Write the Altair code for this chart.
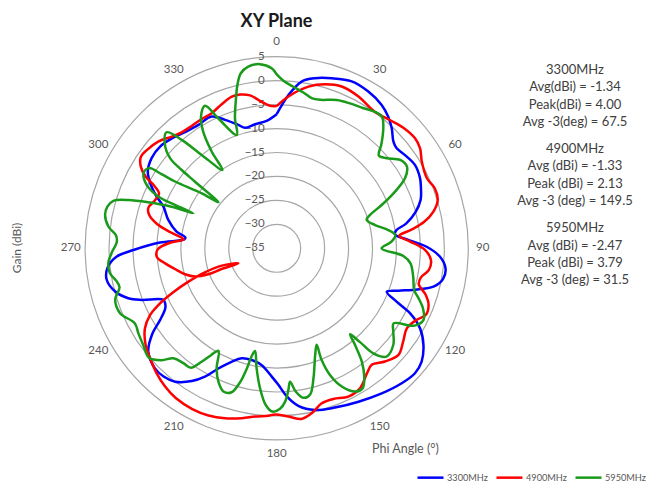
import altair as alt
import pandas as pd

# ---------------- data ----------------
series_names = ["3300MHz", "4900MHz", "5950MHz"]
series_colors = ["#0000ff", "#ff0000", "#1a9a1a"]

blue_phi = [0, 4.4, 8.5, 12.7, 17.9, 24.2, 30.3, 36.2, 40.3, 43.8, 47.6, 50.2, 54.0, 58.9, 64.0, 67.5,
            71.4, 75.5, 79.2, 81.5, 83.4, 86.2, 89.4, 92.9, 96.8, 100.5, 103.6, 106.3, 109.2, 111.5,
            114.0, 116.0, 119.2, 123.4, 128.0, 132.1, 137.2, 144.1, 151.9, 159.9, 166.7, 172.2, 176.1,
            179.3, 182.2, 187.3, 192.6, 197.7, 201.7, 205.9, 209.2, 212.6, 217.3, 221.4, 225.4, 231.2,
            235.5, 238.4, 241.5, 243.5, 245.6, 249.1, 251.4, 255.0, 259.6, 263.6, 267.0, 269.3, 272.8,
            275.5, 276.8, 279.5, 284.7, 290.2, 293.3, 296.7, 300.7, 305.8, 311.1, 316.3, 321.7, 327.6,
            333.7, 338.1, 342.7, 345.3, 350.1, 355.5]
blue_gain = [-7.0, -2.9, 0.2, 1.4, 2.3, 3.2, 2.9, 2.1, 1.0, -0.3, -2.0, -2.4, -1.9, -1.3, -1.7, -2.4,
             -3.3, -5.1, -7.5, -9.8, -10.1, -7.6, -3.7, -0.9, 0.5, 0.3, -1.2, -4.4, -8.1, -10.3,
             -7.6, -4.0, -0.7, 1.7, 3.4, 3.9, 3.4, 2.4, 1.3, 0.4, -0.3, -1.8, -4.0,
             -6.5, -8.2, -10.4, -11.1, -10.9, -9.5, -7.1, -4.3, -2.1, 0.0, 0.7, 0.7, -0.6,
             -3.5, -6.4, -8.5, -9.0, -9.0, -4.8, -2.3, -0.1, 1.1, 0.5, -1.5, -5.1, -10.6,
             -15.6, -15.8, -13.8, -11.6, -9.8, -7.7, -5.6, -3.7, -2.8, -2.7, -3.3, -4.1, -4.5,
             -4.3, -6.1, -8.0, -9.0, -8.7, -8.3]

red_phi = [0, 4.4, 11.1, 16.4, 21.9, 28.3, 35.7, 41.4, 46.4, 51.5, 55.1, 59.1, 65.0, 69.2, 73.3, 76.8,
           79.8, 82.2, 84.2, 87.1, 90.7, 94.4, 98.1, 101.5, 104.2, 107.2, 110.3, 114.0, 117.1, 121.6,
           126.4, 131.2, 136.3, 140.8, 144.2, 149.2, 154.2, 159.4, 163.8, 168.0, 171.7, 176.0, 180.6,
           182.9, 187.3, 191.6, 196.9, 202.2, 207.7, 214.0, 218.9, 223.8, 229.0, 233.6, 238.7, 242.2,
           244.4, 246.8, 249.3, 251.5, 252.5, 248.6, 249.4, 249.2, 250.9, 254.2, 258.5, 262.3, 266.0,
           269.6, 273.3, 275.5, 278.5, 281.5, 284.6, 287.5, 291.7, 295.0, 297.2, 298.7, 301.0, 304.0,
           307.1, 312.0, 316.8, 320.7, 325.2, 329.9, 334.3, 339.1, 343.5, 346.6, 350.1, 353.5, 357.3]
red_gain = [-5.3, -3.2, -0.6, 0.7, 1.4, 1.0, 0.1, 0.7, 1.5, 1.9, 1.5, 0.3, -0.4, 0.3, 0.1, -1.4,
            -3.7, -6.7, -9.3, -7.1, -4.0, -2.7, -2.9, -4.3, -4.4, -2.5, -1.2, -0.9, -2.2, -3.1,
            -2.2, -1.2, -2.3, -3.6, -2.8, -1.0, -0.6, -1.4, -1.3, 0.2, 1.0, 0.2, -0.3,
            0.0, 0.4, 1.2, 2.1, 2.7, 2.9, 2.7, 2.1, 1.2, 0.0, -1.0, -2.8, -5.1,
            -7.6, -11.2, -15.3, -19.2, -23.0, -26.4, -22.7, -19.7, -17.0, -15.1, -13.3, -11.5, -9.9,
            -10.2, -13.0, -15.5, -12.7, -9.5, -7.5, -6.9, -7.7, -7.9, -6.1, -3.8, -1.9, -0.8,
            -1.0, -1.7, -3.0, -3.7, -3.9, -3.8, -3.7, -2.8, -2.0, -2.0, -2.6, -4.0, -5.2]

green_phi = [0, 2.3, 5.9, 9.7, 13.1, 16.3, 22.0, 26.8, 31.8, 35.7, 38.6, 41.2, 43.5, 45.3, 47.8, 50.7,
             54.4, 57.9, 61.4, 64.4, 67.6, 70.3, 72.5, 76.7, 80.7, 83.6, 86.7, 90.0, 93.5, 96.4,
             101.7, 106.9, 109.4, 112.3, 116.0, 119.3, 122.7, 125.5, 129.6, 134.6, 137.4, 138.4,
             139.5, 141.0, 143.1, 146.0, 148.5, 151.3, 154.8, 157.2, 158.1, 157.5, 160.2, 164.2,
             167.1, 169.9, 172.4, 174.3, 175.3, 176.9, 178.8, 181.5, 184.0, 186.8, 189.5, 191.9,
             192.9, 194.0, 195.3, 197.4, 200.4, 203.6, 206.6, 209.6, 211.6, 213.5, 215.7, 219.1,
             223.2, 225.8, 229.4, 234.1, 238.4, 242.1, 247.5, 252.3, 256.1, 258.6, 261.5, 264.9,
             268.3, 272.4, 274.7, 277.3, 281.0, 283.8, 286.2, 288.0, 289.7, 291.6, 292.8, 293.1,
             293.6, 296.0, 299.4, 302.1, 302.8, 303.3, 306.3, 308.3, 309.2, 309.5, 310.2, 312.8,
             316.5, 318.8, 321.2, 325.3, 326.1, 327.8, 330.1, 333.3, 335.8, 340.6, 342.2, 344.4,
             346.5, 348.4, 351.1, 354.8, 358.4]
green_gain = [1.3, 0.0, -1.1, -2.0, -2.8, -2.7, -1.6, -1.1, -0.6, 0.1, 0.2, -1.2, -2.9, -4.3, -6.2, -5.3,
              -3.3, -2.9, -4.5, -7.6, -11.3, -14.3, -15.3, -13.9, -11.4, -10.1, -11.0, -13.1, -8.5, -6.9,
              -5.9, -5.0, -3.6, -2.0, -0.9, -2.0, -6.0, -5.1, -3.4, -2.8, -5.2, -8.8,
              -11.4, -9.0, -5.4, -2.3, -0.7, -0.9, -3.1, -6.3, -9.9, -13.2, -11.3, -6.8,
              -3.7, -3.3, -4.8, -7.0, -5.3, -2.9, -1.5, -0.9, -2.2, -5.6, -9.6, -13.1,
              -12.2, -9.0, -6.0, -3.5, -3.1, -4.6, -7.0, -10.4, -8.8, -6.6, -4.3, -4.1,
              -3.5, -1.5, 0.1, -0.6, -1.1, -1.5, 0.4, 0.4, -1.2, -0.8, 0.2, 0.3,
              -0.5, -1.6, -1.3, 0.4, 1.5, 1.4, 0.5, -2.4, -6.5, -11.4, -16.1, -11.9,
              -8.0, -4.8, -3.1, -3.5, -6.4, -9.6, -15.6, -19.5, -13.0, -9.3, -5.9, -3.2,
              -1.6, -4.9, -10.0, -15.1, -10.7, -6.2, -3.3, -1.7, -5.3, -9.9, -6.5, -3.2,
              0.1, 2.3, 3.4, 3.6, 2.6]

angle_ticks = [0, 30, 60, 90, 120, 150, 180, 210, 240, 270, 300, 330]
gain_ticks = [5, 0, -5, -10, -15, -20, -25, -30, -35]
ring_levels = [5, 0, -5, -10, -15, -20, -25, -30]

stats_blocks = [
    ["3300MHz", "Avg(dBi) = -1.34", "Peak(dBi) = 4.00", "Avg -3(deg) = 67.5"],
    ["4900MHz", "Avg (dBi) =  -1.33", "Peak (dBi) =  2.13", "Avg -3 (deg) =  149.5"],
    ["5950MHz", "Avg (dBi) =  -2.47", "Peak (dBi) = 3.79", "Avg -3 (deg) = 31.5"],
]

# ---------------- build tables ----------------
rows = []
for name, phis, gains in [(series_names[0], blue_phi, blue_gain),
                          (series_names[1], red_phi, red_gain),
                          (series_names[2], green_phi, green_gain)]:
    assert len(phis) == len(gains), name
    pts = list(zip(phis, gains)) + [(phis[0], gains[0])]
    for i, (p, g) in enumerate(pts):
        rows.append({"series": name, "idx": i, "phi": p, "gain": g})
df = pd.DataFrame(rows)

FONT = "Lato"
TXT = "#595959"
W, H = 643, 475
CX, CY, RPX = 268.7, 240.3, 191.6   # centre and outer-ring radius in view pixels
K = RPX / 40.0                      # pixels per radial unit (dB)
xs = alt.Scale(domain=[-CX / K, (W - CX) / K], nice=False, zero=False)
ys = alt.Scale(domain=[-(H - CY) / K, CY / K], nice=False, zero=False)

# rings: circle symbols whose diameter scales linearly with radius (size = diameter^2)
rings = alt.Chart(pd.DataFrame({"level": ring_levels})).transform_calculate(
    r="datum.level + 35", c="0"
).mark_point(shape="circle", filled=False, stroke="#a6a6a6", strokeWidth=1.2, opacity=1).encode(
    x=alt.X("c:Q", scale=xs, axis=None),
    y=alt.Y("c:Q", scale=ys, axis=None),
    size=alt.Size("r:Q", scale=alt.Scale(type="pow", exponent=2, domain=[0, 40],
                                         range=[0, (2 * RPX) ** 2], zero=True), legend=None),
)

gain_lbl = alt.Chart(pd.DataFrame({"g": gain_ticks})).transform_calculate(
    r="datum.g + 35", c="0"
).mark_text(align="right", baseline="middle", dx=-12, fontSize=11.5, color=TXT, font=FONT).encode(
    x=alt.X("c:Q", scale=xs, axis=None),
    y=alt.Y("r:Q", scale=ys, axis=None),
    text=alt.Text("g:Q"),
)

ang_lbl = alt.Chart(pd.DataFrame({"a": angle_ticks})).transform_calculate(
    px="43 * sin(datum.a * PI / 180)", py="43 * cos(datum.a * PI / 180)"
).mark_text(align="center", baseline="middle", fontSize=11.5, color=TXT, font=FONT).encode(
    x=alt.X("px:Q", scale=xs, axis=None),
    y=alt.Y("py:Q", scale=ys, axis=None),
    text=alt.Text("a:Q"),
)

lines = alt.Chart(df).transform_calculate(
    r="datum.gain + 35"
).transform_calculate(
    px="datum.r * sin(datum.phi * PI / 180)",
    py="datum.r * cos(datum.phi * PI / 180)",
).mark_line(strokeWidth=2.5, interpolate="catmull-rom").encode(
    x=alt.X("px:Q", scale=xs, axis=None),
    y=alt.Y("py:Q", scale=ys, axis=None),
    color=alt.Color("series:N", scale=alt.Scale(domain=series_names, range=series_colors),
                    legend=alt.Legend(orient="none", legendX=408, legendY=455, direction="horizontal",
                                      columns=3, title=None, symbolType="stroke", symbolSize=676,
                                      symbolStrokeWidth=2.5, labelFontSize=9.2, labelColor=TXT,
                                      labelFont=FONT, labelOffset=2, columnPadding=3, padding=0)),
    order=alt.Order("idx:Q"),
)

title = alt.Chart(pd.DataFrame({"t": ["XY Plane"]})).mark_text(
    fontSize=18, fontWeight="bold", font=FONT, color="#1a1a1a", align="center", baseline="alphabetic"
).encode(x=alt.value(268.5), y=alt.value(18.5), text="t:N")

ytitle = alt.Chart(pd.DataFrame({"t": ["Gain (dBi)"]})).mark_text(
    fontSize=12, font=FONT, color=TXT, angle=270, align="center", baseline="middle"
).encode(x=alt.value(9), y=alt.value(240), text="t:N")

xtitle = alt.Chart(pd.DataFrame({"t": ["Phi Angle (°)"]})).mark_text(
    fontSize=12.5, font=FONT, color=TXT, align="left", baseline="middle"
).encode(x=alt.value(364), y=alt.value(441), text="t:N")

stat_layers = []
for block, y_first in zip(stats_blocks, [62.0, 141.0, 220.3]):
    stat_layers.append(
        alt.Chart(pd.DataFrame({"t": ["\n".join(block)]})).mark_text(
            fontSize=13, font=FONT, color="#404040", align="center", baseline="middle",
            lineBreak="\n", lineHeight=17.3
        ).encode(x=alt.value(567), y=alt.value(y_first), text="t:N")
    )

chart = alt.layer(rings, gain_lbl, ang_lbl, lines, title, ytitle, xtitle, *stat_layers).properties(
    width=W, height=H, padding=0, background="white",
    autosize=alt.AutoSizeParams(type="none"),
).configure_view(stroke=None)

chart.save("out.html", embed_options={"renderer": "svg", "actions": False})
